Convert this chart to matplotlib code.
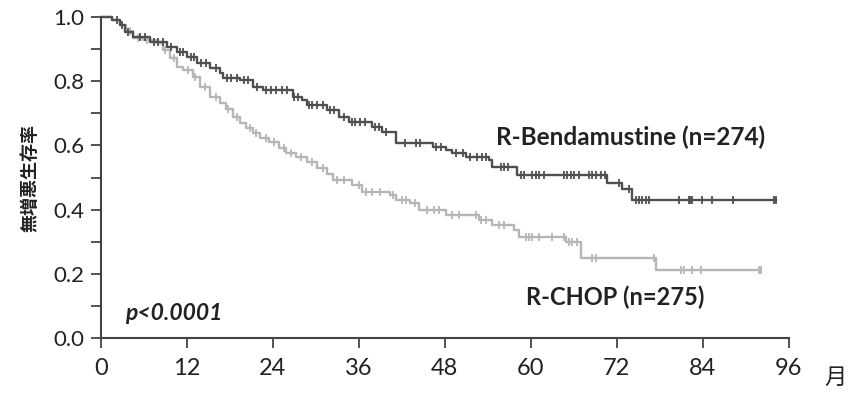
import matplotlib.pyplot as plt
import numpy as np

# step points (months, survival)
benda_t = [0, 1.5, 2.6, 3.3, 4.5, 6.8, 9.2, 10.6, 12.0, 13.4, 15.2, 16.6, 17.0, 19.4,
           21.2, 22.6, 26.8, 28.1, 28.7, 31.5, 33.3, 34.7, 37.9, 39.3, 41.2, 46.3,
           48.2, 49.0, 51.0, 54.2, 54.6, 58.1, 70.6, 72.7, 74.1, 94.2]
benda_s = [1.0, 0.99, 0.975, 0.953, 0.938, 0.922, 0.906, 0.89, 0.875, 0.857, 0.84, 0.826,
           0.81, 0.804, 0.782, 0.773, 0.751, 0.741, 0.726, 0.71, 0.688, 0.673, 0.657,
           0.642, 0.607, 0.595, 0.586, 0.576, 0.564, 0.555, 0.533, 0.508, 0.483, 0.464,
           0.43, 0.43]
benda_cens = [2.2, 3.0, 3.8, 5.5, 6.2, 7.4, 8.0, 8.6, 9.8, 11.0, 11.5, 12.6, 13.0, 14.0,
              14.6, 16.0, 17.6, 18.2, 19.0, 20.0, 20.6, 21.8, 23.0, 23.8, 24.5, 25.3,
              26.0, 27.0, 27.5, 29.0, 29.5, 30.2, 31.0, 32.0, 32.6, 34.0, 35.0, 35.5,
              36.2, 36.8, 38.2, 38.8, 39.8, 42.5, 44.0, 44.5, 46.8, 47.5, 49.5, 50.5,
              51.5, 52.5, 53.2, 53.8, 55.8, 56.2, 56.8, 58.6, 59.1, 60.2, 60.7, 61.2,
              61.9, 64.6, 65.1, 65.6, 66.0, 66.7, 68.1, 68.6, 69.1, 69.8, 70.4, 72.3,
              73.7, 74.7, 75.1, 75.5, 76.1, 76.5, 80.7, 82.1, 82.3, 82.5, 83.9, 85.3,
              88.3, 93.9, 94.2]

chop_t = [0, 1.5, 2.6, 3.5, 4.5, 5.9, 7.8, 8.6, 9.6, 10.6, 11.4, 12.8, 13.8, 15.2, 16.6,
          17.5, 18.4, 19.4, 20.3, 21.2, 22.2, 23.5, 24.9, 25.9, 27.3, 28.7, 30.1, 31.5,
          32.4, 35.1, 36.5, 40.3, 41.2, 43.1, 44.4, 48.2, 52.8, 54.6, 57.7, 58.4, 64.9,
          67.0, 77.5, 92.2]
chop_s = [1.0, 0.99, 0.975, 0.955, 0.935, 0.928, 0.92, 0.897, 0.872, 0.844, 0.835,
          0.813, 0.782, 0.751, 0.732, 0.715, 0.69, 0.67, 0.654, 0.639, 0.623, 0.611,
          0.592, 0.576, 0.564, 0.548, 0.53, 0.51, 0.492, 0.477, 0.455, 0.445, 0.43,
          0.42, 0.40, 0.383, 0.368, 0.352, 0.336, 0.315, 0.30, 0.249, 0.212, 0.212]
chop_cens = [4.0, 5.2, 6.5, 9.0, 10.2, 12.2, 13.2, 14.5, 16.0, 17.8, 19.0, 20.8, 21.6,
             23.0, 24.2, 25.5, 26.5, 28.0, 29.5, 31.0, 33.0, 34.0, 36.0, 37.0, 37.8,
             39.0, 40.8, 42.0, 42.6, 43.8, 45.5, 46.5, 47.2, 49.0, 50.0, 52.4, 53.1,
             53.8, 55.6, 56.3, 59.4, 59.8, 60.2, 61.2, 63.0, 64.7, 65.3, 65.8, 66.5,
             68.6, 69.1, 77.2, 81.0, 81.4, 82.5, 83.7, 91.8, 92.2]

x_ticks = [0, 12, 24, 36, 48, 60, 72, 84, 96]
y_ticks = [0.0, 0.2, 0.4, 0.6, 0.8, 1.0]

DARK = "#4f4f4f"
LIGHT = "#b6b6b6"
TXT = "#222222"


def surv_at(times, t, s):
    idx = np.searchsorted(t, times, side="right") - 1
    return np.asarray(s)[idx]


fig = plt.figure(figsize=(8.48, 3.95), dpi=100)
ax = fig.add_axes([0.119, 0.144, 0.811, 0.813])

ax.step(chop_t, chop_s, where="post", color=LIGHT, lw=1.7, clip_on=False)
ax.plot(chop_cens, surv_at(chop_cens, chop_t, chop_s), ls="none", marker="|",
        ms=5.5, mew=1.3, color=LIGHT, clip_on=False)
ax.step(benda_t, benda_s, where="post", color=DARK, lw=1.7, clip_on=False)
ax.plot(benda_cens, surv_at(benda_cens, benda_t, benda_s), ls="none", marker="|",
        ms=5.5, mew=1.3, color=DARK, clip_on=False)

ax.set_xlim(0, 96)
ax.set_ylim(0, 1.0)
ax.set_xticks(x_ticks)
ax.set_yticks(y_ticks)
ax.set_yticks(np.arange(0.1, 1.0, 0.2), minor=True)
ax.set_yticklabels([f"{v:.1f}" for v in y_ticks])
for s in ["top", "right"]:
    ax.spines[s].set_visible(False)
for s in ["left", "bottom"]:
    ax.spines[s].set_color("#444444")
    ax.spines[s].set_linewidth(1.5)
ax.tick_params(axis="both", which="both", direction="out", color="#444444",
               width=1.3, labelcolor=TXT)
ax.tick_params(axis="y", which="both", length=7, labelsize=16, pad=5)
ax.tick_params(axis="x", length=7, labelsize=17, pad=7)
for lab in ax.get_xticklabels() + ax.get_yticklabels():
    lab.set_family("Lato")

ax.set_ylabel("無増悪生存率", family=["Noto Sans CJK JP"], fontweight="bold",
              fontsize=13, labelpad=10, color=TXT)
fig.text(0.998, 0.015, "月", family=["Noto Sans CJK JP"], fontsize=16,
         color=TXT, ha="right", va="bottom")

ax.text(55.2, 0.626, "R-Bendamustine (n=274)", family="Lato", fontweight="bold",
        fontsize=17.5, color=TXT, va="center")
ax.text(59.4, 0.128, "R-CHOP (n=275)", family="Lato", fontweight="bold",
        fontsize=17, color=TXT, va="center")
ax.text(3.3, 0.078, "p<0.0001", family="Lato", fontweight="bold", style="italic",
        fontsize=16.5, color=TXT, va="center")

fig.savefig("out.png", dpi=100)
